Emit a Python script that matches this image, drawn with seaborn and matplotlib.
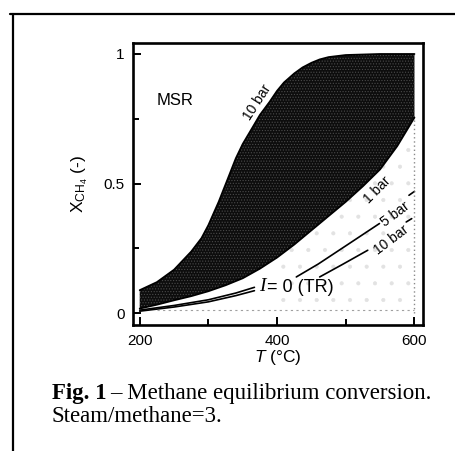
"""
Methane equilibrium conversion (MSR / TR) figure.
"""

import matplotlib.pyplot as plt
import matplotlib.lines as mlines
import seaborn as sns
import pandas as pd

plt.switch_backend('Agg')

# MSR band: upper boundary (10 bar label) and lower boundary (1 bar label)
temp_upper = [200, 225, 250, 275, 290, 300, 315, 325, 340, 350, 365, 375, 389, 400, 410,
              425, 437, 450, 462, 475, 500, 550, 600]
conv_upper = [0.089, 0.12, 0.168, 0.238, 0.29, 0.34, 0.43, 0.497, 0.598, 0.653, 0.72, 0.765,
              0.815, 0.858, 0.89, 0.925, 0.948, 0.966, 0.979, 0.988, 0.996, 1.0, 1.0]

temp_lower = [200, 225, 250, 275, 300, 325, 350, 375, 400, 425, 450, 475, 500, 525, 550, 575, 600]
conv_lower = [0.018, 0.033, 0.05, 0.066, 0.085, 0.108, 0.135, 0.172, 0.215, 0.265, 0.32, 0.375,
              0.43, 0.49, 0.555, 0.645, 0.755]

# TR curves, split where the "I = 0 (TR)" label sits
temp_tr5_a = [200, 250, 300, 340, 367]
conv_tr5_a = [0.012, 0.03, 0.052, 0.078, 0.1]
temp_tr5_b = [428, 460, 500, 549]
conv_tr5_b = [0.14, 0.19, 0.26, 0.346]
temp_tr5_c = [592, 600]
conv_tr5_c = [0.455, 0.47]

temp_tr10_a = [200, 250, 300, 340, 367]
conv_tr10_a = [0.008, 0.024, 0.044, 0.068, 0.087]
temp_tr10_b = [462, 495, 532]
conv_tr10_b = [0.14, 0.188, 0.243]
temp_tr10_c = [588, 596]
conv_tr10_c = [0.352, 0.365]

# faint dotted traces of the scan
edge_temp = [600, 600]
edge_conv = [0.0, 0.755]
base_temp = [225, 600]
base_conv = [0.012, 0.012]

x_ticks = [200, 400, 600]
x_minor = [300, 500]
y_ticks = [0, 0.5, 1]
y_tick_labels = ['0', '0.5', '1']
y_minor = [0.25, 0.75]

sns.set_style('ticks')
plt.rcParams['font.family'] = ['Liberation Sans', 'DejaVu Sans']
plt.rcParams['mathtext.fontset'] = 'custom'
plt.rcParams['mathtext.rm'] = 'Liberation Sans'
plt.rcParams['mathtext.it'] = 'Liberation Sans:italic'
plt.rcParams['hatch.linewidth'] = 0.5
plt.rcParams['text.color'] = 'black'
plt.rcParams['axes.labelcolor'] = 'black'
plt.rcParams['xtick.color'] = 'black'
plt.rcParams['ytick.color'] = 'black'
plt.rcParams['axes.edgecolor'] = 'black'

fig = plt.figure(figsize=(4.55, 4.51), dpi=100)
ax = fig.add_axes([0.292, 0.279, 0.637, 0.626])

upper = pd.DataFrame({'T': temp_upper, 'X': conv_upper})
lower = pd.DataFrame({'T': temp_lower, 'X': conv_lower})

# dark band between the two MSR curves
all_t = sorted(set(temp_upper) | set(temp_lower))
band_up = pd.Series(conv_upper, index=temp_upper).reindex(all_t).interpolate(method='index')
band_lo = pd.Series(conv_lower, index=temp_lower).reindex(all_t).interpolate(method='index')
ax.fill_between(all_t, band_lo.values, band_up.values, facecolor='#0d0d0d',
                edgecolor='#4a4a4a', hatch='......', linewidth=0)

# light stipple under the 1 bar curve
ax.fill_between(temp_lower, base_conv[0], conv_lower, where=[t >= 380 for t in temp_lower],
                facecolor='white', edgecolor='#e2e2e2', hatch='.', linewidth=0)

sns.lineplot(data=upper, x='T', y='X', color='black', lw=1.3, ax=ax)
sns.lineplot(data=lower, x='T', y='X', color='black', lw=1.3, ax=ax)

for tt, cc in [(temp_tr5_a, conv_tr5_a), (temp_tr5_b, conv_tr5_b), (temp_tr5_c, conv_tr5_c),
               (temp_tr10_a, conv_tr10_a), (temp_tr10_b, conv_tr10_b), (temp_tr10_c, conv_tr10_c)]:
    sns.lineplot(x=tt, y=cc, color='black', lw=1.2, ax=ax)

ax.plot(edge_temp, edge_conv, color='#8a8a8a', lw=1.0, ls=(0, (1, 2)))
ax.plot(base_temp, base_conv, color='#a0a0a0', lw=0.8, ls=(0, (2, 3)))

ax.set_xlim(190, 612)
ax.set_ylim(-0.046, 1.043)
ax.set_xticks(x_ticks)
ax.set_xticks(x_minor, minor=True)
ax.set_yticks(y_ticks)
ax.set_yticklabels(y_tick_labels)
ax.set_yticks(y_minor, minor=True)
ax.tick_params(which='both', direction='in', width=1.4, labelsize=11, pad=6)
ax.tick_params(which='major', length=6)
ax.tick_params(which='minor', length=4)
for sp in ax.spines.values():
    sp.set_linewidth(1.9)
    sp.set_visible(True)

ax.set_xlabel(r'$\mathit{T}$ (°C)', fontsize=12.5, labelpad=0)
ax.set_ylabel(r'X$_{\mathrm{CH_4}}$ (-)', fontsize=12.5, labelpad=10)

# annotations
ax.text(252, 0.82, 'MSR', fontsize=12, ha='center', va='center')
ax.text(372, 0.815, '10 bar', fontsize=10, rotation=57, ha='center', va='center')
ax.text(546, 0.475, '1 bar', fontsize=10, rotation=45, ha='center', va='center')
ax.text(572, 0.38, '5 bar', fontsize=10, rotation=37, ha='center', va='center')
ax.text(566, 0.283, '10 bar', fontsize=10, rotation=37, ha='center', va='center')
ax.text(378, 0.103, 'I', fontsize=14, family='Liberation Serif', style='italic',
        ha='center', va='center')
ax.text(385, 0.10, '= 0 (TR)', fontsize=13, ha='left', va='center')

# caption
fig.text(0.114, 1 - 393 / 451, r'Fig. 1', fontsize=16.5, family='Liberation Serif',
         weight='bold', ha='left', va='center')
fig.text(0.114 + 58 / 455, 1 - 393 / 451, '– Methane equilibrium conversion.', fontsize=16.5,
         family='Liberation Serif', ha='left', va='center')
fig.text(0.114, 1 - 416 / 451, 'Steam/methane=3.', fontsize=16.5,
         family='Liberation Serif', ha='left', va='center')

# page frame lines
fig.add_artist(mlines.Line2D([10 / 455, 1], [1 - 14 / 451] * 2, color='black', lw=1.6,
                             transform=fig.transFigure))
fig.add_artist(mlines.Line2D([13 / 455] * 2, [0, 1 - 14 / 451], color='black', lw=1.6,
                             transform=fig.transFigure))

fig.savefig('out.png', dpi=100)
plt.close(fig)
